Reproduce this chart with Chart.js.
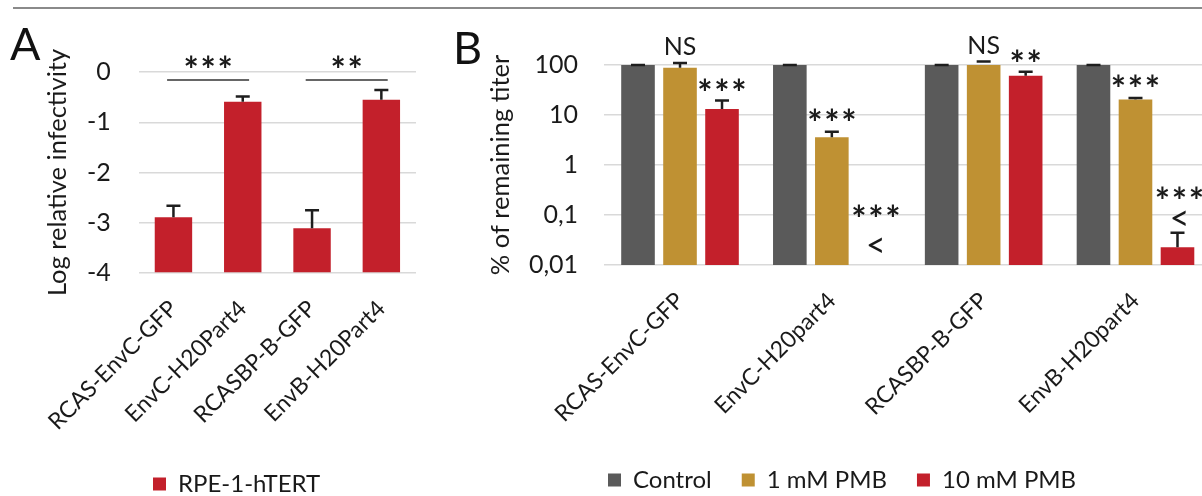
<!DOCTYPE html>
<html><head><meta charset="utf-8">
<script src="https://cdn.jsdelivr.net/npm/chart.js@4"></script>
<style>
html,body{margin:0;padding:0;background:#fff;overflow:hidden;width:1202px;height:496px;position:relative;}
#topline{position:absolute;left:13px;top:7px;width:1189px;height:2px;background:#8a8a8a;}
.wrap{position:absolute;top:0;}
#wa{left:0;width:420px;height:506px;}
#wb{left:440px;width:780px;height:502px;}
.letter{position:absolute;font-family:Lato;font-size:45px;color:#111;line-height:1;}
</style></head><body>
<div id="topline"></div>
<div class="wrap" id="wa"><canvas id="ca"></canvas></div>
<div class="wrap" id="wb"><canvas id="cb"></canvas></div>
<div class="letter" style="left:10px;top:21px">A</div>
<div class="letter" style="left:453px;top:25px">B</div>
<script>
// ---------- Panel A data ----------
const categoriesA = ['RCAS-EnvC-GFP', 'EnvC-H20Part4', 'RCASBP-B-GFP', 'EnvB-H20Part4'];
const seriesNameA = 'RPE-1-hTERT';
const valuesA = [-2.89, -0.59, -3.11, -0.55];
const errUpperA = [-2.66, -0.49, -2.75, -0.36];
const ticksA = [0, -1, -2, -3, -4];
const sigPairsA = [[0, 1], [2, 3]];
const sigLabelsA = ['***', '**'];

// ---------- Panel B data ----------
const categoriesB = ['RCAS-EnvC-GFP', 'EnvC-H20part4', 'RCASBP-B-GFP', 'EnvB-H20part4'];
const seriesNamesB = ['Control', '1 mM PMB', '10 mM PMB'];
const controlB = [100, 100, 100, 100];
const pmb1B = [88, 3.6, 111, 20.5];
const pmb10B = [13.2, null, 61, 0.0226];
const controlErrB = [100, 100, 100, 100];
const pmb1ErrB = [110, 4.6, 117, 22];
const pmb10ErrB = [19.5, null, 73, 0.044];
const sig1B = ['NS', '***', 'NS', '***'];
const sig10B = ['***', '***', '**', '***'];
const below10B = [false, true, false, true];
const ticksB = [100, 10, 1, 0.1, 0.01];
const tickLabelsB = ['100', '10', '1', '0,1', '0,01'];

const FONT = 'Lato';
const TXT = '#1a1a1a';
const GRID = '#d9d9d9';
const GRAY = '#5a5a5a', GOLD = '#bf9133', RED = '#c3202b';
const tickFont = { family: FONT, size: 25 };
const catFont = { family: FONT, size: 23 };
const legFont = { family: FONT, size: 24 };
const titleFont = { family: FONT, size: 25.5 };

function drawStars(ctx, text, cx, cy) {
  ctx.save();
  ctx.font = 'bold 36px ' + FONT;
  ctx.fillStyle = TXT;
  ctx.textAlign = 'center';
  ctx.textBaseline = 'middle';
  const step = 17;
  const n = text.length;
  for (let k = 0; k < n; k++) {
    ctx.fillText(text[k], cx + (k - (n - 1) / 2) * step, cy + 7);
  }
  ctx.restore();
}
function drawText(ctx, text, cx, cy, size) {
  ctx.save();
  ctx.font = size + 'px ' + FONT;
  ctx.fillStyle = TXT;
  ctx.textAlign = 'center';
  ctx.textBaseline = 'middle';
  ctx.fillText(text, cx, cy);
  ctx.restore();
}
function label(ctx, text, cx, cy) {
  if (text.indexOf('*') >= 0) drawStars(ctx, text, cx, cy);
  else drawText(ctx, text, cx, cy, 25);
}

const errorBars = {
  id: 'errorBars',
  afterDatasetsDraw(chart) {
    const ctx = chart.ctx, ys = chart.scales.y;
    chart.data.datasets.forEach((ds, di) => {
      const meta = chart.getDatasetMeta(di);
      (ds.errUpper || []).forEach((u, i) => {
        const v = ds.data[i];
        if (u == null || v == null) return;
        const el = meta.data[i];
        const y0 = ys.getPixelForValue(v), y1 = ys.getPixelForValue(u);
        ctx.save();
        ctx.strokeStyle = '#1e1e1e';
        ctx.lineWidth = 2.5;
        ctx.beginPath();
        ctx.moveTo(el.x, y0); ctx.lineTo(el.x, y1);
        ctx.moveTo(el.x - 7, y1); ctx.lineTo(el.x + 7, y1);
        ctx.stroke();
        ctx.restore();
      });
    });
  }
};

const legendAt = {
  id: 'legendAt',
  afterLayout(chart, args, opts) {
    const lg = chart.legend;
    if (!lg || opts.x == null) return;
    const dx = opts.x - (lg.left + lg.options.labels.padding);
    lg.left += dx; lg.right += dx;
  }
};

const sigA = {
  id: 'sigA',
  afterDatasetsDraw(chart) {
    const ctx = chart.ctx, meta = chart.getDatasetMeta(0), top = chart.chartArea.top;
    sigPairsA.forEach((p, k) => {
      const mid = (meta.data[p[0]].x + meta.data[p[1]].x) / 2;
      ctx.save();
      ctx.strokeStyle = '#333';
      ctx.lineWidth = 1.6;
      ctx.beginPath();
      ctx.moveTo(mid - 41, top + 8); ctx.lineTo(mid + 41, top + 8);
      ctx.stroke();
      ctx.restore();
      label(ctx, sigLabelsA[k], mid, top - 8);
    });
  }
};

const sigB = {
  id: 'sigB',
  afterDatasetsDraw(chart) {
    const ctx = chart.ctx, ys = chart.scales.y;
    const m1 = chart.getDatasetMeta(1), m2 = chart.getDatasetMeta(2);
    categoriesB.forEach((c, i) => {
      const e1 = ys.getPixelForValue(pmb1ErrB[i]);
      label(ctx, sig1B[i], m1.data[i].x, e1 - (sig1B[i] === 'NS' ? 16 : 14));
      const x2 = m2.data[i].x;
      if (below10B[i]) {
        let lessY;
        if (pmb10B[i] == null) lessY = ys.bottom - 19;
        else lessY = ys.getPixelForValue(pmb10ErrB[i]) - 14;
        drawText(ctx, '<', x2 + 2, lessY, 34);
        drawStars(ctx, sig10B[i], x2 + 2, lessY - (pmb10B[i] == null ? 33 : 23));
      } else {
        label(ctx, sig10B[i], x2, ys.getPixelForValue(pmb10ErrB[i]) - 13);
      }
    });
  }
};

new Chart(document.getElementById('ca'), {
  type: 'bar',
  data: {
    labels: categoriesA,
    datasets: [{
      label: seriesNameA, data: valuesA, errUpper: errUpperA,
      backgroundColor: RED, base: -4,
      categoryPercentage: 0.54, barPercentage: 1
    }]
  },
  options: {
    responsive: true, maintainAspectRatio: false, animation: false,
    layout: { padding: { top: 72, left: 0, right: 4, bottom: 0 } },
    plugins: {
      legend: {
        position: 'bottom', align: 'start',
        labels: { boxWidth: 13, boxHeight: 13, padding: 10, color: TXT, font: legFont }
      },
      legendAt: { x: 153 },
      tooltip: { enabled: false }
    },
    scales: {
      x: {
        grid: { display: false }, border: { display: false },
        ticks: { maxRotation: 45, minRotation: 45, color: TXT, font: catFont, padding: 14 },
        afterFit(s) { s.height = 189; }
      },
      y: {
        min: -4, max: 0,
        afterBuildTicks(s) { s.ticks = ticksA.map(v => ({ value: v })); },
        grid: { color: GRID, lineWidth: 1.5, drawTicks: false },
        border: { display: false },
        ticks: { padding: 28, color: TXT, font: tickFont },
        title: { display: true, text: 'Log relative infectivity', color: TXT, font: titleFont, padding: { top: 42, bottom: 0 } },
        afterFit(s) { s.width = 138.8; }
      }
    }
  },
  plugins: [errorBars, sigA, legendAt]
});

new Chart(document.getElementById('cb'), {
  type: 'bar',
  data: {
    labels: categoriesB,
    datasets: [
      { label: seriesNamesB[0], data: controlB, errUpper: controlErrB, backgroundColor: GRAY },
      { label: seriesNamesB[1], data: pmb1B, errUpper: pmb1ErrB, backgroundColor: GOLD },
      { label: seriesNamesB[2], data: pmb10B, errUpper: pmb10ErrB, backgroundColor: RED }
    ]
  },
  options: {
    responsive: true, maintainAspectRatio: false, animation: false,
    datasets: { bar: { categoryPercentage: 0.83, barPercentage: 0.8 } },
    layout: { padding: { top: 65, left: 0, right: 8.6, bottom: 0 } },
    plugins: {
      legend: {
        position: 'bottom', align: 'start',
        labels: { boxWidth: 13, boxHeight: 13, padding: 30, color: TXT, font: legFont }
      },
      legendAt: { x: 168 },
      tooltip: { enabled: false }
    },
    scales: {
      x: {
        grid: { display: false }, border: { display: false },
        ticks: { maxRotation: 45, minRotation: 45, color: TXT, font: catFont, padding: 14 },
        afterFit(s) { s.height = 173; }
      },
      y: {
        type: 'logarithmic', min: 0.01, max: 100,
        afterBuildTicks(s) { s.ticks = ticksB.map(v => ({ value: v })); },
        grid: { color: GRID, lineWidth: 1.5, drawTicks: false },
        border: { display: false },
        ticks: {
          padding: 26, color: TXT, font: tickFont,
          callback(v) {
            let best = 0;
            ticksB.forEach((t, k) => { if (Math.abs(Math.log10(t) - Math.log10(v)) < Math.abs(Math.log10(ticksB[best]) - Math.log10(v))) best = k; });
            return tickLabelsB[best];
          }
        },
        title: { display: true, text: '% of remaining titer', color: TXT, font: titleFont, padding: { top: 45, bottom: 0 } },
        afterFit(s) { s.width = 164.1; }
      }
    }
  },
  plugins: [errorBars, sigB, legendAt]
});
</script>
</body></html>
